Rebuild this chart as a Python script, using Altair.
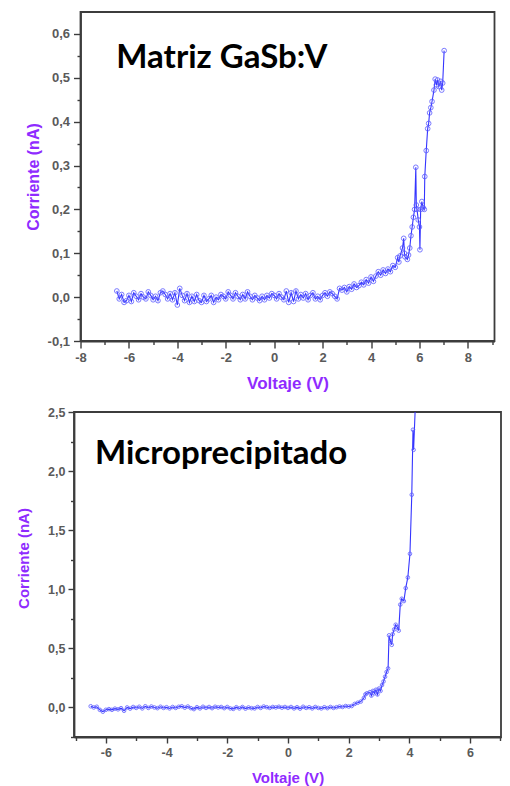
import altair as alt
import pandas as pd

# ---------------- data: top panel (Matriz GaSb:V) ----------------
top_v = [-6.5, -6.4, -6.3, -6.2, -6.1, -6.0, -5.9, -5.8, -5.7, -5.6, -5.5, -5.4, -5.3, -5.2, -5.1,
         -5.0, -4.9, -4.8, -4.7, -4.6, -4.5, -4.4, -4.3, -4.2, -4.1, -4.0, -3.9, -3.8, -3.7, -3.6,
         -3.5, -3.4, -3.3, -3.2, -3.1, -3.0, -2.9, -2.8, -2.7, -2.6, -2.5, -2.4, -2.3, -2.2, -2.1,
         -2.0, -1.9, -1.8, -1.7, -1.6, -1.5, -1.4, -1.3, -1.2, -1.1, -1.0, -0.9, -0.8, -0.7, -0.6,
         -0.5, -0.4, -0.3, -0.2, -0.1, 0.0, 0.1, 0.2, 0.3, 0.4, 0.5, 0.6, 0.7, 0.8, 0.9,
         1.0, 1.1, 1.2, 1.3, 1.4, 1.5, 1.6, 1.7, 1.8, 1.9, 2.0, 2.1, 2.2, 2.3, 2.4,
         2.5, 2.6, 2.7, 2.8, 2.9, 3.0, 3.1, 3.2, 3.3, 3.4, 3.5, 3.6, 3.7, 3.8, 3.9,
         4.0, 4.1, 4.2, 4.3, 4.4, 4.5, 4.6, 4.7, 4.8, 4.9, 5.0, 5.1, 5.15, 5.2, 5.3,
         5.35, 5.38, 5.4, 5.5, 5.55, 5.6, 5.65, 5.7, 5.75, 5.8, 5.85, 5.87, 5.9, 5.95, 6.0,
         6.02, 6.05, 6.1, 6.15, 6.2, 6.22, 6.28, 6.34, 6.38, 6.42, 6.47, 6.52, 6.6, 6.65, 6.7,
         6.75, 6.8, 6.88, 6.92, 6.96, 7.02]
top_i = [0.014, -0.004, 0.006, -0.012, -0.008, 0.004, -0.010, 0.010, 0.002, -0.006, 0.008, 0.000, -0.004, 0.012, 0.004,
         -0.006, 0.002, -0.008, 0.010, 0.014, 0.006, -0.004, 0.008, -0.006, 0.010, -0.018, 0.020, 0.004, -0.008, 0.008,
         -0.012, 0.002, -0.010, 0.006, -0.008, -0.012, 0.004, -0.010, -0.004, 0.004, -0.012, 0.000, -0.006, 0.006, 0.002,
         -0.004, 0.012, 0.004, -0.004, 0.010, 0.002, -0.006, 0.006, -0.004, 0.012, 0.002, -0.006, 0.004, -0.002, -0.008,
         0.002, -0.006, 0.004, -0.002, 0.008, 0.004, -0.004, 0.008, 0.000, -0.006, 0.014, -0.012, 0.010, -0.010, 0.014,
         -0.004, 0.006, -0.002, 0.008, -0.006, 0.004, 0.010, -0.004, 0.002, -0.006, 0.004, 0.010, 0.002, 0.012, 0.008,
         0.002, -0.004, 0.020, 0.016, 0.022, 0.012, 0.024, 0.018, 0.030, 0.022, 0.026, 0.034, 0.028, 0.040, 0.032,
         0.046, 0.036, 0.048, 0.058, 0.050, 0.062, 0.054, 0.064, 0.058, 0.072, 0.068, 0.090, 0.080, 0.094, 0.112,
         0.134, 0.100, 0.092, 0.086, 0.096, 0.112, 0.140, 0.160, 0.182, 0.200, 0.296, 0.210, 0.200, 0.176, 0.160,
         0.108, 0.200, 0.218, 0.204, 0.200, 0.275, 0.334, 0.384, 0.396, 0.420, 0.432, 0.446, 0.472, 0.497, 0.484,
         0.495, 0.480, 0.492, 0.472, 0.488, 0.562]

# ---------------- data: bottom panel (Microprecipitado) ----------------
bot_v = [-6.5, -6.4, -6.3, -6.2, -6.1, -6.0, -5.9, -5.8, -5.7, -5.6, -5.5, -5.4, -5.3, -5.2, -5.1,
         -5.0, -4.9, -4.8, -4.7, -4.6, -4.5, -4.4, -4.3, -4.2, -4.1, -4.0, -3.9, -3.8, -3.7, -3.6,
         -3.5, -3.4, -3.3, -3.2, -3.1, -3.0, -2.9, -2.8, -2.7, -2.6, -2.5, -2.4, -2.3, -2.2, -2.1,
         -2.0, -1.9, -1.8, -1.7, -1.6, -1.5, -1.4, -1.3, -1.2, -1.1, -1.0, -0.9, -0.8, -0.7, -0.6,
         -0.5, -0.4, -0.3, -0.2, -0.1, 0.0, 0.1, 0.2, 0.3, 0.4, 0.5, 0.6, 0.7, 0.8, 0.9,
         1.0, 1.1, 1.2, 1.3, 1.4, 1.5, 1.6, 1.7, 1.8, 1.9, 2.0, 2.1, 2.2, 2.3, 2.4,
         2.5, 2.55, 2.6, 2.7, 2.75, 2.8, 2.85, 2.9, 2.95, 3.0, 3.05, 3.1, 3.15, 3.2, 3.25,
         3.3, 3.33, 3.38, 3.42, 3.45, 3.5, 3.55, 3.6, 3.65, 3.7, 3.75, 3.82, 3.88, 3.95, 4.02,
         4.08, 4.12, 4.14, 4.22]
bot_i = [0.010, 0.000, 0.006, -0.020, -0.036, -0.020, -0.014, -0.020, -0.010, -0.016, -0.006, -0.028, 0.000, -0.010, 0.004,
         -0.004, 0.006, -0.008, 0.010, -0.004, 0.008, 0.000, -0.006, 0.006, -0.004, 0.002, -0.008, 0.004, -0.004, 0.006,
         0.010, -0.002, 0.008, -0.006, -0.014, 0.002, -0.008, 0.006, -0.004, 0.004, -0.006, 0.006, 0.000, 0.004, -0.006,
         0.004, -0.008, -0.012, 0.002, -0.008, 0.004, -0.010, 0.000, -0.006, -0.008, 0.004, -0.004, 0.008, 0.002, -0.004,
         0.004, 0.000, 0.006, -0.002, 0.004, -0.004, 0.004, -0.008, 0.002, -0.010, 0.006, -0.004, 0.002, -0.008, 0.004,
         -0.004, -0.008, 0.002, -0.006, 0.004, -0.004, 0.002, 0.008, 0.004, 0.012, 0.008, 0.012, 0.030, 0.040, 0.050,
         0.080, 0.110, 0.120, 0.130, 0.100, 0.140, 0.120, 0.150, 0.110, 0.160, 0.140, 0.190, 0.220, 0.260, 0.300,
         0.330, 0.610, 0.560, 0.530, 0.620, 0.660, 0.700, 0.680, 0.650, 0.870, 0.920, 0.900, 1.010, 1.100, 1.300,
         1.800, 2.350, 2.180, 2.700]

# ---------------- axis ticks / labels ----------------
top_x_ticks = [-8, -7, -6, -5, -4, -3, -2, -1, 0, 1, 2, 3, 4, 5, 6, 7, 8, 9]
top_y_ticks = [-0.1, -0.05, 0.0, 0.05, 0.1, 0.15, 0.2, 0.25, 0.3, 0.35, 0.4, 0.45, 0.5, 0.55, 0.6]
bot_x_ticks = [-7, -6, -5, -4, -3, -2, -1, 0, 1, 2, 3, 4, 5, 6, 7]
bot_y_ticks = [-0.25, 0.0, 0.25, 0.5, 0.75, 1.0, 1.25, 1.5, 1.75, 2.0, 2.25, 2.5]

top_title = ["Matriz GaSb:V"]
bot_title = ["Microprecipitado"]

LINE = "#3535ff"
PT = "#5a5aff"
PURPLE = "#8f2bff"
FRAME = "#3c3c3c"
LABEL = "#5a5a5a"

x_major = "datum.value % 2 === 0"
x_label = "datum.value % 2 === 0 ? toString(datum.value) : ''"
ytop_major = "abs(datum.value*10 - round(datum.value*10)) < 0.001"
ytop_label = "abs(datum.value*10 - round(datum.value*10)) < 0.001 ? replace(replace(format(datum.value, '.1f'), '.', ','), '\u2212', '-') : ''"
ybot_major = "abs(datum.value*2 - round(datum.value*2)) < 0.001"
ybot_label = "abs(datum.value*2 - round(datum.value*2)) < 0.001 ? replace(replace(format(datum.value, '.1f'), '.', ','), '\u2212', '-') : ''"


def make_axis(title, values, label_expr, major_test, title_size, label_size, orient,
              tick_major, label_pad, title_x=None, title_y=None):
    kw = dict(
        title=title, values=values, tickCount=200, labelExpr=label_expr, grid=False,
        tickSize={"condition": {"test": major_test, "value": tick_major}, "value": 3.5},
        tickColor=FRAME, tickWidth=1.4, domainColor=FRAME, domainWidth=1.8,
        labelColor=LABEL, labelFont="Liberation Sans", labelFontSize=label_size,
        labelFontWeight="bold",
        labelPadding=label_pad, labelOverlap=False, labelFlush=False,
        titleColor=PURPLE, titleFont="Liberation Sans", titleFontWeight="bold",
        titleFontSize=title_size, titleBaseline="middle",
    )
    if orient == "left":
        kw["titleAngle"] = 270
    if title_x is not None:
        kw["titleX"] = title_x
    if title_y is not None:
        kw["titleY"] = title_y
    return alt.Axis(**kw)


def panel(v, i, xdom, ydom, xticks, yticks, ylabel, ymajor, w, h, ptsize,
          txt, tx, ty, ytitle_x, ytitle_y, xtitle_y, xtitle_size, ytitle_size,
          label_size, tick_major, ylabel_pad):
    df = pd.DataFrame({"V": v, "I": i, "k": list(range(len(v)))})
    x = alt.X("V:Q", scale=alt.Scale(domain=xdom, nice=False, zero=False),
              axis=make_axis("Voltaje (V)", xticks, x_label, x_major, xtitle_size, label_size,
                             "bottom", tick_major, 3, title_y=xtitle_y))
    y = alt.Y("I:Q", scale=alt.Scale(domain=ydom, nice=False, zero=False),
              axis=make_axis("Corriente (nA)", yticks, ylabel, ymajor, ytitle_size, label_size,
                             "left", tick_major, ylabel_pad, title_x=ytitle_x, title_y=ytitle_y))
    base = alt.Chart(df)
    line = base.mark_line(color=LINE, strokeWidth=1.1, clip=True).encode(x=x, y=y, order="k:Q")
    pts = base.mark_point(shape="circle", filled=False, color=PT, size=ptsize,
                          strokeWidth=1, opacity=0.8, clip=True).encode(x=x, y=y)
    tdf = pd.DataFrame({"t": txt, "V": [tx], "I": [ty]})
    text = alt.Chart(tdf).mark_text(font="Lato", fontWeight="bold", fontSize=33,
                                    color="#000000", align="left",
                                    baseline="alphabetic").encode(
        x=alt.X("V:Q"), y=alt.Y("I:Q"), text="t:N")
    return alt.layer(line, pts, text).properties(width=w, height=h)


top = panel(top_v, top_i, [-8, 9.1], [-0.1, 0.65], top_x_ticks, top_y_ticks, ytop_label, ytop_major,
            414, 329, 22, top_title, -6.52, 0.523, -47, 164.5, 42, 17, 16, 13, 7, 4)
bot = panel(bot_v, bot_i, [-7.05, 7.02], [-0.25, 2.5], bot_x_ticks, bot_y_ticks, ybot_label, ybot_major,
            427, 325, 13, bot_title, -6.36, 2.06, -51, 146, 40, 15, 15, 12.5, 6, 3)

chart = alt.vconcat(top, bot, spacing=71, bounds="flush", center=True).properties(
    padding={"left": 7, "top": 3, "right": 0, "bottom": 0},
    background="white",
).configure_view(stroke=FRAME, strokeWidth=1.8)

chart.save("out.html", embed_options={"renderer": "svg", "actions": False})
